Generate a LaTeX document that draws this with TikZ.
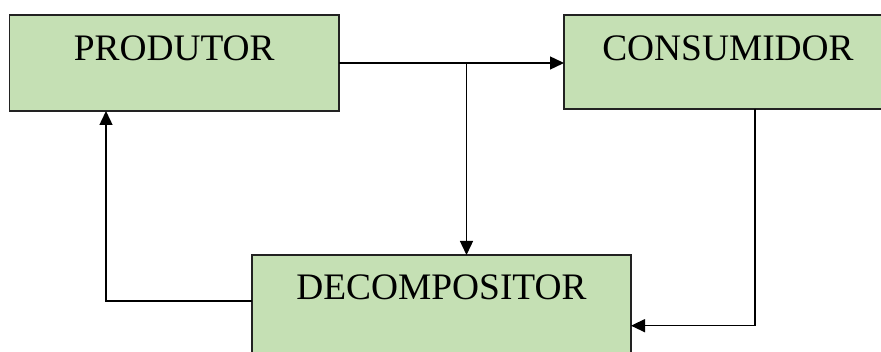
\documentclass[tikz,border=0pt]{standalone}
\usepackage{fontspec}
\setmainfont{Liberation Serif}
\usetikzlibrary{arrows.meta}
\definecolor{boxgreen}{HTML}{C5E0B4}
\definecolor{edge}{HTML}{222222}
\begin{document}
\begin{tikzpicture}[x=1pt,y=-1pt,
  box/.style={draw=edge, line width=1.5pt, fill=boxgreen, inner sep=0pt, outer sep=0pt,
    font=\fontsize{37.4pt}{40pt}\selectfont, align=center, anchor=north west},
  link/.style={draw=black, line width=1.4pt, -{Triangle[length=14pt,width=13pt]}}]
\useasboundingbox (0,0) rectangle (881,352);
\clip (0,0) rectangle (881,352);
\fill[white] (0,0) rectangle (881,352);
\node[box, minimum width=329.5pt, text height=45.7pt, text depth=50.3pt] (P) at (9.5,15) {PRODUTOR};
\node[box, minimum width=328pt, text height=45.7pt, text depth=48.3pt] (C) at (564,15) {CONSUMIDOR};
\node[box, minimum width=379pt, text height=45pt, text depth=60pt] (D) at (252,255) {DECOMPOSITOR};
\coordinate (j) at (466.5,63);
\coordinate (cdown) at (755,109);
\coordinate (cturn) at (755,325.7);
\coordinate (dleft) at (252,301);
\coordinate (pturn) at (106,301);
\draw[link] (P.east) -- (C.west |- P.east);
\draw[link] (j) -- (j |- D.north);
\draw[link] (cdown) -- (cturn) -- (D.east |- cturn);
\draw[link] (dleft) -- (pturn) -- (pturn |- P.south);
\end{tikzpicture}
\end{document}
